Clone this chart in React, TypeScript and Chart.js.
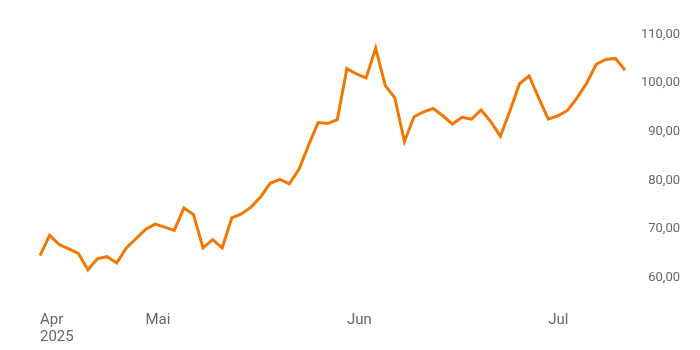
import React, { useEffect, useRef } from "react";
import { Chart, registerables } from "chart.js";

Chart.register(...registerables);

const dates: string[] = [
  "2025-04-14", "2025-04-15", "2025-04-16", "2025-04-17", "2025-04-22", "2025-04-23", "2025-04-24", "2025-04-25", "2025-04-28", "2025-04-29", "2025-04-30",
  "2025-05-02", "2025-05-05", "2025-05-06", "2025-05-07", "2025-05-08", "2025-05-09", "2025-05-12", "2025-05-13", "2025-05-14", "2025-05-15", "2025-05-16",
  "2025-05-19", "2025-05-20", "2025-05-21", "2025-05-22", "2025-05-23", "2025-05-26", "2025-05-27", "2025-05-28", "2025-05-29", "2025-05-30",
  "2025-06-02", "2025-06-03", "2025-06-04", "2025-06-05", "2025-06-06", "2025-06-09", "2025-06-10", "2025-06-11", "2025-06-12", "2025-06-13",
  "2025-06-16", "2025-06-17", "2025-06-18", "2025-06-19", "2025-06-20", "2025-06-23", "2025-06-24", "2025-06-25", "2025-06-26", "2025-06-27", "2025-06-30",
  "2025-07-01", "2025-07-02", "2025-07-03", "2025-07-04", "2025-07-07", "2025-07-08", "2025-07-09", "2025-07-10", "2025-07-11",
];

const prices: number[] = [
  64.5, 68.7, 66.8, 65.9, 65.0, 61.6, 63.9, 64.3, 63.0, 66.1, 68.0,
  69.9, 71.0, 70.4, 69.7, 74.3, 73.0, 66.1, 67.8, 66.1, 72.3, 73.1,
  74.5, 76.6, 79.4, 80.2, 79.3, 82.3, 87.2, 91.9, 91.7, 92.5,
  103.0, 101.9, 101.1, 107.2, 99.5, 97.0, 88.0, 93.1, 94.1, 94.8,
  93.3, 91.6, 93.0, 92.6, 94.5, 92.1, 89.1, 94.3, 99.9, 101.5, 97.0,
  92.6, 93.3, 94.4, 97.0, 100.0, 103.9, 104.9, 105.1, 102.7,
];

const monthNames: string[] = ["Jan", "Feb", "Mär", "Apr", "Mai", "Jun", "Jul", "Aug", "Sep", "Okt", "Nov", "Dez"];
const yTicks: number[] = [60, 70, 80, 90, 100, 110];

export default function App() {
  const ref = useRef<HTMLCanvasElement | null>(null);

  useEffect(() => {
    if (!ref.current) return;
    const chart = new Chart(ref.current, {
      type: "line",
      data: {
        labels: dates,
        datasets: [
          {
            data: prices,
            borderColor: "rgb(240,120,0)",
            borderWidth: 3,
            pointRadius: 0,
            tension: 0,
            fill: false,
          },
        ],
      },
      options: {
        animation: false,
        responsive: false,
        maintainAspectRatio: false,
        layout: { padding: { left: 40, right: 20, top: 20, bottom: 5 } },
        plugins: { legend: { display: false }, tooltip: { enabled: false } },
        scales: {
          x: {
            type: "category",
            offset: false,
            grid: { display: false, drawTicks: false },
            border: { display: false },
            ticks: {
              autoSkip: false,
              maxRotation: 0,
              minRotation: 0,
              align: "start",
              padding: 12,
              color: "#666",
              font: { family: "Roboto", size: 15, lineHeight: 1.1 },
              callback: (_v: any, i: number) => {
                const d = dates[i];
                const m = parseInt(d.slice(5, 7), 10) - 1;
                if (i === 0) return [monthNames[m], d.slice(0, 4)];
                const pm = parseInt(dates[i - 1].slice(5, 7), 10) - 1;
                if (m !== pm) return monthNames[m];
                return "";
              },
            },
            afterFit: (s: any) => {
              s.height = 45;
            },
          },
          y: {
            position: "right",
            min: 55.39,
            max: 112.23,
            grid: { display: false, drawTicks: false },
            border: { display: false },
            afterBuildTicks: (s: any) => {
              s.ticks = yTicks.map((v) => ({ value: v }));
            },
            afterFit: (s: any) => {
              s.width = 55;
            },
            ticks: {
              crossAlign: "far",
              padding: 16,
              color: "#666",
              font: { family: "Roboto", size: 13 },
              callback: (v: any) =>
                Number(v).toLocaleString("de-DE", { minimumFractionDigits: 2, maximumFractionDigits: 2 }),
            },
          },
        },
      },
    });
    return () => chart.destroy();
  }, []);

  return (
    <div style={{ position: "fixed", left: 0, top: 0, width: 700, height: 350, background: "#fff" }}>
      <canvas ref={ref} width={700} height={350} style={{ width: 700, height: 350 }} />
    </div>
  );
}
